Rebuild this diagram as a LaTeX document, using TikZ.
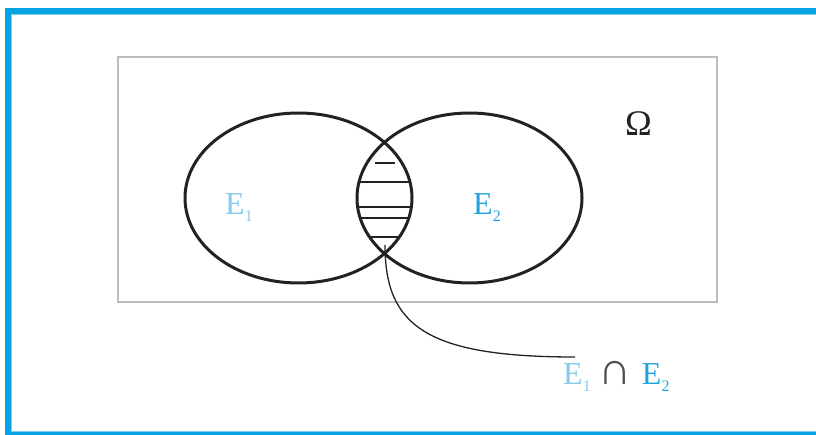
\documentclass[tikz,border=0pt]{standalone}
\usepackage{fontspec}
\setmainfont{Liberation Serif}
\definecolor{frameblue}{HTML}{05A3E4}
\definecolor{framelight}{HTML}{7FCFF2}
\definecolor{eone}{HTML}{84CBEE}
\definecolor{etwo}{HTML}{20A4E0}
\definecolor{boxgray}{HTML}{BDBDBD}
\definecolor{inkdark}{HTML}{222222}
\newcommand{\sbs}[1]{\raisebox{-7pt}{\fontsize{16}{16}\selectfont #1}}
\tikzset{
  setline/.style={line width=3pt, draw=inkdark},
  hatchline/.style={line width=1.9pt, draw=inkdark},
  lbl/.style={inner sep=0pt, font=\fontsize{32}{34}\selectfont},
}
\begin{document}
\begin{tikzpicture}[x=1pt,y=-1pt]
\useasboundingbox (0,0) rectangle (816,435);
% blue frame
\fill[frameblue] (5,8) rectangle (816,14);
\fill[frameblue] (5,8) rectangle (11,435);
\fill[frameblue] (5,432) rectangle (816,435);
\draw[framelight, line width=0.8pt] (11.4,14.4) -- (816,14.4);
\draw[framelight, line width=0.8pt] (11.4,14.4) -- (11.4,431.6) -- (816,431.6);
% universe box
\draw[boxgray, line width=1.4pt] (118,57) rectangle (717,302);
% hatching in the intersection
\begin{scope}
  \clip (298.5,198) ellipse [x radius=113.5, y radius=85];
  \clip (469.5,198) ellipse [x radius=112.5, y radius=85];
  \foreach \yy in {182,207,218,237} {
    \draw[hatchline] (340,\yy) -- (430,\yy);
  }
\end{scope}
\coordinate (hA) at (375,163);
\coordinate (hB) at (395,163);
\draw[hatchline] (hA) -- (hB);
% the two sets
\draw[setline] (298.5,198) ellipse [x radius=113.5, y radius=85];
\draw[setline] (469.5,198) ellipse [x radius=112.5, y radius=85];
% labels
\node[lbl, text=eone, anchor=base west] (E1) at (225,215) {E\sbs{1}};
\node[lbl, text=etwo, anchor=base west] (E2) at (473,215) {E\sbs{2}};
\node[lbl, text=inkdark, anchor=base west, font=\fontsize{36}{38}\selectfont] (Om) at (625,136) {Ω};
\node[lbl, anchor=base west] (cap) at (563,384)
  {\textcolor{eone}{E\sbs{1}}\hspace{8pt}\textcolor{inkdark!80}{\fontsize{46}{46}\selectfont ∩}\hspace{10pt}\textcolor{etwo}{E\sbs{2}}};
% leader
\coordinate (lp) at (385,245);
\coordinate (le) at (575,357);
\draw[line width=1.3pt, draw=inkdark] (lp) .. controls (385,325) and (425,357) .. (le);
\end{tikzpicture}
\end{document}
